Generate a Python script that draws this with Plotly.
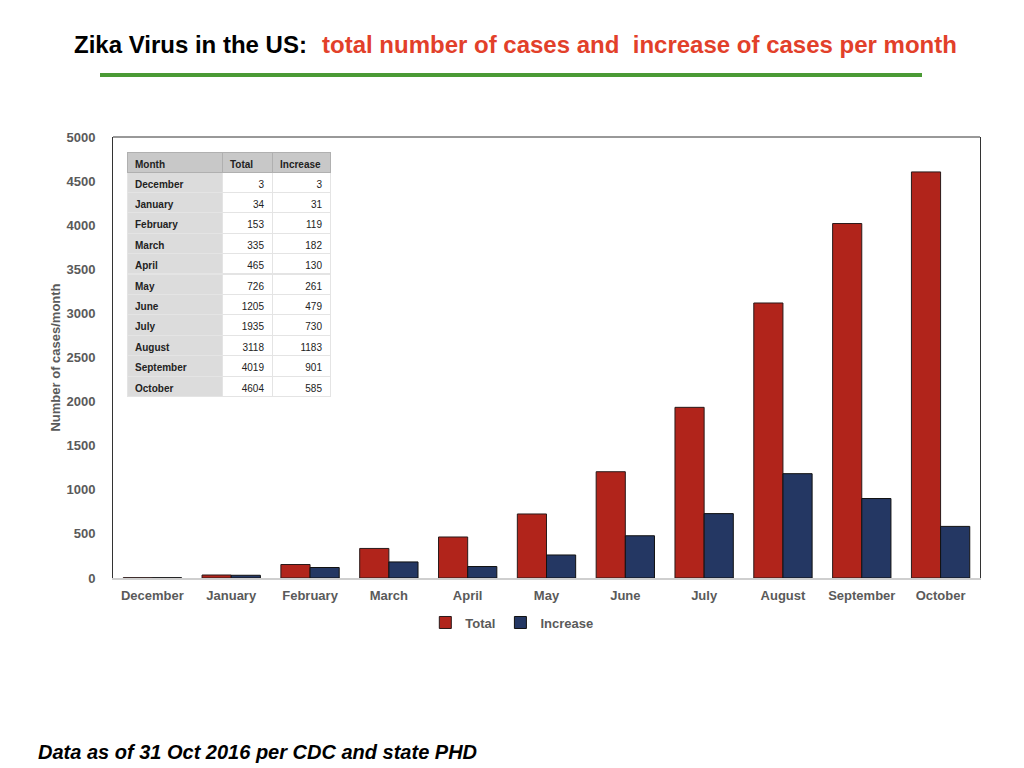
import plotly.graph_objects as go

months = ["December", "January", "February", "March", "April", "May",
          "June", "July", "August", "September", "October"]
total = [3, 34, 153, 335, 465, 726, 1205, 1935, 3118, 4019, 4604]
increase = [3, 31, 119, 182, 130, 261, 479, 730, 1183, 901, 585]

RED = "#b1241b"
BLUE = "#243763"
GREY = "#5a5a5a"
FONT = "Liberation Sans"

# plot box on the page (px): x 113..980, y 137..578; page body adds 8px offset
PW, PH = 867, 441


def px_x(x):
    return (x - 113) / PW


def px_y(y):
    return (578 - y) / PH


fig = go.Figure()

fig.add_trace(go.Bar(x=months, y=total, name="Total",
                     marker=dict(color=RED, line=dict(color="#2a1a1a", width=1))))
fig.add_trace(go.Bar(x=months, y=increase, name="Increase",
                     marker=dict(color=BLUE, line=dict(color="#111", width=1))))

# data table inset
fig.add_trace(go.Table(
    domain=dict(x=[px_x(127), px_x(330)], y=[px_y(397), px_y(152)]),
    columnwidth=[95, 50, 58],
    header=dict(
        values=["Month", "Total", "Increase"],
        fill_color="#c8c8c8",
        line_color="#b0b0b0",
        align=["left", "left", "left"],
        font=dict(family=FONT, size=10, color="#222", weight="bold"),
        height=20,
    ),
    cells=dict(
        values=[months, total, increase],
        fill_color=[["#dcdcdc"] * len(months), ["white"] * len(months), ["white"] * len(months)],
        line_color="#e4e4e4",
        align=["left", "right", "right"],
        font=dict(family=FONT, size=10, color="#222",
                  weight=["bold", "normal", "normal"]),
        height=20.4,
    ),
))

fig.update_layout(
    width=1024, height=768,
    paper_bgcolor="white", plot_bgcolor="white",
    margin=dict(l=105, r=52, t=129, b=198),
    barmode="group", bargap=0.26, bargroupgap=0,
    font=dict(family=FONT, color=GREY),
    showlegend=True,
    legend=dict(orientation="h", x=0.46, y=-0.067, xanchor="center", yanchor="top",
                font=dict(size=13, color=GREY, weight="bold"),
                itemwidth=30, traceorder="normal"),
    xaxis=dict(showline=True, linecolor="#cfcfcf", linewidth=2,
               tickfont=dict(size=13, color=GREY, weight="bold"),
               ticklabelstandoff=4,
               ticks="", showgrid=False),
    yaxis=dict(range=[0, 5000], dtick=500, showgrid=False,
               showline=True, mirror=True, linecolor="#333", linewidth=1,
               ticks="", zeroline=False, ticklabelstandoff=14,
               tickfont=dict(size=13, color=GREY, weight="bold"),
               title=dict(text="Number of cases/month", standoff=2,
                          font=dict(size=13, color=GREY, weight="bold"))),
)

# top border of the plot frame
fig.add_shape(type="line", xref="paper", yref="paper", x0=0, x1=1, y0=1, y1=1,
              line=dict(color="#333", width=1))

# green rule under the title
fig.add_shape(type="line", xref="paper", yref="paper",
              x0=px_x(100), x1=px_x(922), y0=px_y(75), y1=px_y(75),
              line=dict(color="#4a9a35", width=4))

fig.add_annotation(text="Zika Virus in the US:", xref="paper", yref="paper",
                   x=px_x(72), y=px_y(45), xanchor="left", yanchor="middle",
                   showarrow=False, font=dict(family=FONT, size=24, color="black", weight="bold"))
fig.add_annotation(text="total number of cases and  increase of cases per month",
                   xref="paper", yref="paper",
                   x=px_x(320), y=px_y(45), xanchor="left", yanchor="middle",
                   showarrow=False, font=dict(family=FONT, size=24, color="#e2402a", weight="bold"))
fig.add_annotation(text="<i>Data as of 31 Oct 2016 per CDC and state PHD</i>",
                   xref="paper", yref="paper",
                   x=px_x(36), y=px_y(752), xanchor="left", yanchor="middle",
                   showarrow=False, font=dict(family=FONT, size=20, color="black", weight="bold"))

fig.write_html("out.html")
